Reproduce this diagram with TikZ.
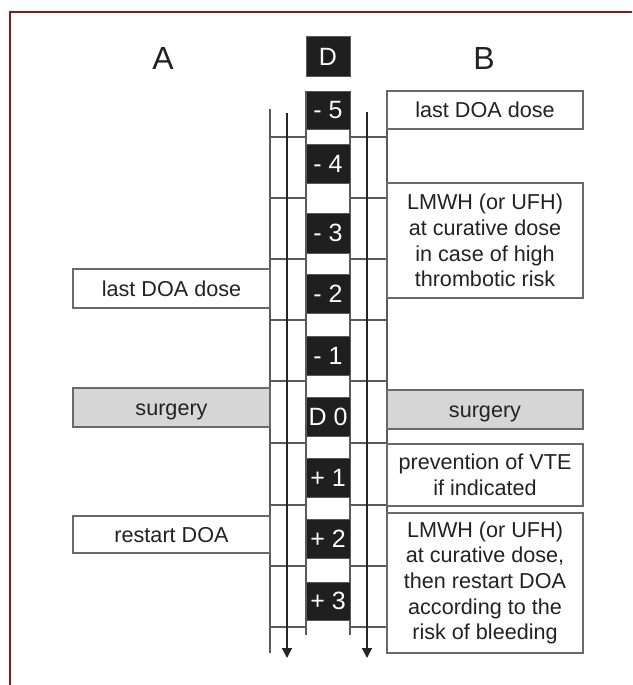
\documentclass[tikz,border=0pt]{standalone}
\usepackage{fontspec}
\setmainfont{Liberation Sans}
\usetikzlibrary{arrows.meta}
\definecolor{frame}{HTML}{861818}
\definecolor{gridc}{HTML}{5A5A5A}
\definecolor{boxc}{HTML}{6A6A6A}
\definecolor{darkbox}{HTML}{1F1F1F}
\definecolor{txt}{HTML}{222222}
\definecolor{surg}{HTML}{D6D6D6}
\tikzset{
  gridline/.style={draw=gridc, line width=1.2pt},
  arrowline/.style={draw=black!85, line width=1.6pt, -{Triangle[width=10pt,length=10pt]}},
  txtbox/.style={draw=boxc, line width=1.2pt, fill=white, inner sep=0pt, align=center,
     text=txt, font=\fontsize{21.6}{25.7}\selectfont},
  oneline/.style={text height=19pt, text depth=4pt},
  surgbox/.style={txtbox, oneline, fill=surg},
  daybox/.style={draw=gridc, line width=1pt, fill=darkbox, text=white, inner sep=0pt,
     minimum width=44pt, font=\fontsize{25}{25}\selectfont},
  colhead/.style={text=txt, font=\fontsize{32}{32}\selectfont, inner sep=0pt}
}
\begin{document}
\begin{tikzpicture}[x=1pt,y=-1pt]
\useasboundingbox (0,0) rectangle (632,685);
\begin{scope}
\clip (0,0) rectangle (632,685);
\draw[frame, line width=2.8pt] (10,12) rectangle (720,780);
\end{scope}

% headers
\node[colhead] (hA) at (163,58) {A};
\node[colhead] (hB) at (484,58) {B};
\node[daybox, minimum height=39pt] (hD) at (328,56.5) {D};

% grid lines
\draw[gridline] (270,109) -- (270,653);
\draw[gridline] (387,109) -- (387,653);
\draw[gridline] (306,91) -- (306,635);
\draw[gridline] (350,91) -- (350,635);
\foreach \yy in {137,198,259,320,381,443,505,566,627}{
  \draw[gridline] (270,\yy) -- (306,\yy);
  \draw[gridline] (350,\yy) -- (387,\yy);
}
% time arrows
\coordinate (la0) at (287,113);
\coordinate (la1) at (287,658);
\coordinate (ra0) at (367,112);
\coordinate (ra1) at (367,658);
\draw[arrowline] (la0) -- (la1);
\draw[arrowline] (ra0) -- (ra1);

% day boxes
\foreach \lab/\top/\bot/\nm in {{- 5}/91/129/m5,{- 4}/144/183/m4,{- 3}/213/253/m3,{- 2}/274/313/m2,{- 1}/336/375/m1,{D 0}/397/436/d0,{+ 1}/458/497/p1,{+ 2}/519/558/p2,{+ 3}/582/620/p3}{
  \pgfmathsetmacro{\h}{\bot-\top}
  \pgfmathsetmacro{\c}{(\bot+\top)/2}
  \node[daybox, minimum height=\h pt] (\nm) at (328,\c) {\lab};
}

% column A boxes
\node[txtbox, oneline, minimum width=197pt, minimum height=39pt] (a1) at (171.5,288.5) {last DOA dose};
\node[surgbox, minimum width=197pt, minimum height=39pt] (a2) at (171.5,407.5) {surgery};
\node[txtbox, oneline, minimum width=197pt, minimum height=37pt] (a3) at (171.5,534.5) {restart DOA};

% column B boxes
\node[txtbox, oneline, minimum width=196pt, minimum height=38pt] (b1) at (485,110) {last DOA dose};
\node[txtbox, minimum width=196pt, minimum height=115pt] (b2) at (485,240.5) {LMWH (or UFH)\\at curative dose\\in case of high\\thrombotic risk};
\node[surgbox, minimum width=196pt, minimum height=39pt] (b3) at (485,409.5) {surgery};
\node[txtbox, minimum width=196pt, minimum height=62pt] (b4) at (485,475) {prevention of VTE\\if indicated};
\node[txtbox, minimum width=196pt, minimum height=140pt] (b5) at (485,583) {LMWH (or UFH)\\at curative dose,\\then restart DOA\\according to the\\risk of bleeding};
\end{tikzpicture}
\end{document}
